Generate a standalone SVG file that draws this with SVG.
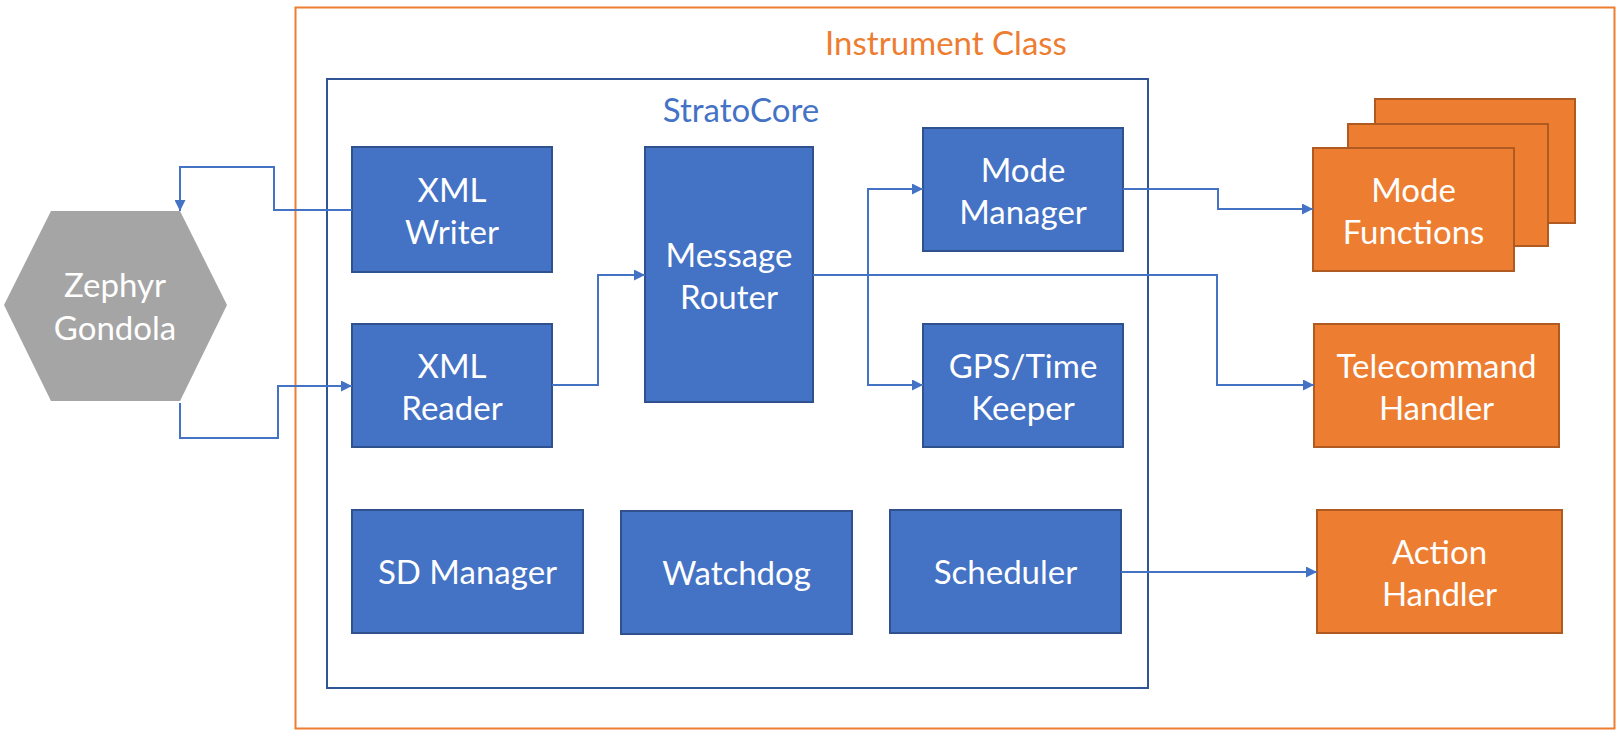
<svg xmlns="http://www.w3.org/2000/svg" width="1621" height="735" viewBox="0 0 1621 735">
<style>
.blue{fill:#4472C4;stroke:#2F528F;stroke-width:2}
.orange{fill:#ED7D31;stroke:#AE5A21;stroke-width:2}
.lbl{font-family:Lato,"Liberation Sans",sans-serif;font-size:33px;fill:#FFFFFF;text-anchor:middle}
.title{font-family:Lato,"Liberation Sans",sans-serif;font-size:33px;text-anchor:middle}
.conn{fill:none;stroke:#4472C4;stroke-width:2}
</style>
<defs>
<marker id="arr" viewBox="0 0 10 10" refX="10" refY="5" markerWidth="11" markerHeight="11" markerUnits="userSpaceOnUse" orient="auto-start-reverse">
<path d="M0,0 L10,5 L0,10 Z" fill="#4472C4"/>
</marker>
</defs>
<rect width="1621" height="735" fill="#FFFFFF"/>
<g id="instrument-class">
<rect x="295.5" y="7.5" width="1319" height="721" fill="none" stroke="#ED7D31" stroke-width="2"/>
<text class="title" x="946" y="55" fill="#ED7D31">Instrument Class</text>
</g>
<g id="stratocore">
<rect x="327" y="79" width="821" height="609" fill="none" stroke="#2F5597" stroke-width="2"/>
<text class="title" x="741" y="122" fill="#4472C4">StratoCore</text>
</g>
<g id="zephyr-gondola">
<polygon points="4,305 51,211 180,211 227,305 180,401 51,401" fill="#A5A5A5"/>
<text class="lbl" x="115" y="297">Zephyr</text>
<text class="lbl" x="115" y="340">Gondola</text>
</g>
<g id="xml-writer">
<rect class="blue" x="352" y="147" width="200" height="125"/>
<text class="lbl" x="452" y="202">XML</text>
<text class="lbl" x="452" y="244">Writer</text>
</g>
<g id="xml-reader">
<rect class="blue" x="352" y="324" width="200" height="123"/>
<text class="lbl" x="452" y="378">XML</text>
<text class="lbl" x="452" y="420">Reader</text>
</g>
<g id="message-router">
<rect class="blue" x="645" y="147" width="168" height="255"/>
<text class="lbl" x="729" y="267">Message</text>
<text class="lbl" x="729" y="309">Router</text>
</g>
<g id="mode-manager">
<rect class="blue" x="923" y="128" width="200" height="123"/>
<text class="lbl" x="1023" y="182">Mode</text>
<text class="lbl" x="1023" y="224">Manager</text>
</g>
<g id="gps-time-keeper">
<rect class="blue" x="923" y="324" width="200" height="123"/>
<text class="lbl" x="1023" y="378">GPS/Time</text>
<text class="lbl" x="1023" y="420">Keeper</text>
</g>
<g id="sd-manager">
<rect class="blue" x="352" y="510" width="231" height="123"/>
<text class="lbl" x="467.5" y="584">SD Manager</text>
</g>
<g id="watchdog">
<rect class="blue" x="621" y="511" width="231" height="123"/>
<text class="lbl" x="736.5" y="585">Watchdog</text>
</g>
<g id="scheduler">
<rect class="blue" x="890" y="510" width="231" height="123"/>
<text class="lbl" x="1005.5" y="584">Scheduler</text>
</g>
<g id="mode-functions">
<rect class="orange" x="1375" y="99" width="200" height="124"/>
<rect class="orange" x="1348" y="124" width="200" height="122"/>
<rect class="orange" x="1313" y="148" width="201" height="123"/>
<text class="lbl" x="1413.5" y="202">Mode</text>
<text class="lbl" x="1413.5" y="244">Functions</text>
</g>
<g id="telecommand-handler">
<rect class="orange" x="1314" y="324" width="245" height="123"/>
<text class="lbl" x="1436.5" y="378">Telecommand</text>
<text class="lbl" x="1436.5" y="420">Handler</text>
</g>
<g id="action-handler">
<rect class="orange" x="1317" y="510" width="245" height="123"/>
<text class="lbl" x="1439.5" y="564">Action</text>
<text class="lbl" x="1439.5" y="606">Handler</text>
</g>
<g id="connectors">
<path class="conn" d="M352,210 H274 V167 H180 V211" marker-end="url(#arr)"/>
<path class="conn" d="M180,403 V438 H278 V386 H352" marker-end="url(#arr)"/>
<path class="conn" d="M552,385 H598 V275 H645" marker-end="url(#arr)"/>
<path class="conn" d="M813,275 H1217 V385 H1314" marker-end="url(#arr)"/>
<path class="conn" d="M923,189 H868 V385 H923" marker-start="url(#arr)" marker-end="url(#arr)"/>
<path class="conn" d="M1123,189 H1218 V209 H1313" marker-end="url(#arr)"/>
<path class="conn" d="M1121,572 H1317" marker-end="url(#arr)"/>
</g>
</svg>
